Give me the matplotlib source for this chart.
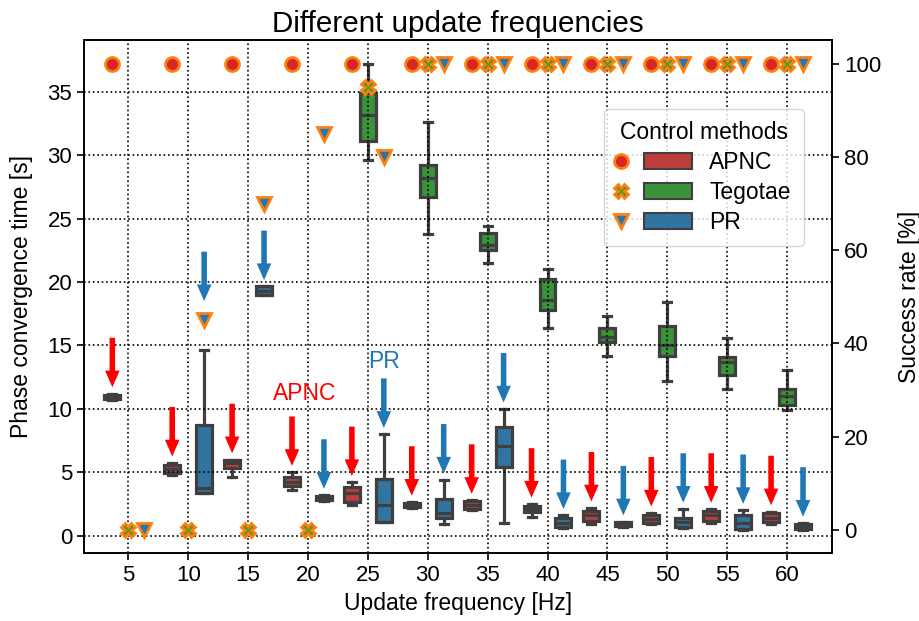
import colorsys
import numpy as np
import matplotlib
matplotlib.use("Agg")
import matplotlib.pyplot as plt
import matplotlib.colors as mcolors
from matplotlib.lines import Line2D
from matplotlib.patches import Patch, Rectangle

plt.rcParams['font.family'] = ['Liberation Sans', 'DejaVu Sans']

freqs = [5, 10, 15, 20, 25, 30, 35, 40, 45, 50, 55, 60]
methods = ['APNC', 'Tegotae', 'PR']

# box stats per frequency: (whisker low, Q1, median, Q3, whisker high) [s]
apnc_box = [(10.7, 10.75, 10.9, 11.1, 11.2), (4.8, 4.95, 5.25, 5.55, 5.75),
            (4.6, 5.35, 5.7, 5.95, 6.0), (3.6, 3.9, 4.25, 4.6, 5.0),
            (2.4, 2.65, 3.4, 3.85, 4.2), (2.2, 2.25, 2.4, 2.6, 2.65),
            (2.0, 2.1, 2.4, 2.7, 2.8), (1.5, 1.85, 2.1, 2.35, 2.5),
            (0.9, 1.15, 1.6, 1.95, 2.2), (0.9, 1.0, 1.3, 1.65, 1.8),
            (1.0, 1.15, 1.6, 1.95, 2.1), (0.95, 1.05, 1.4, 1.75, 1.9)]
tegotae_box = [None, None, None, None,
               (29.6, 31.1, 33.2, 34.9, 37.2), (23.8, 26.7, 28.2, 29.2, 32.6),
               (21.5, 22.5, 22.9, 23.9, 24.4), (16.4, 17.8, 18.6, 20.2, 21.0),
               (14.2, 15.3, 15.7, 16.4, 17.3), (12.2, 14.2, 15.0, 16.5, 18.4),
               (11.6, 12.7, 13.7, 14.1, 15.6), (9.9, 10.3, 11.0, 11.6, 13.1)]
pr_box = [None, (3.4, 3.4, 3.75, 8.7, 14.6),
          (18.95, 18.95, 19.3, 19.65, 19.65), (2.75, 2.8, 3.0, 3.15, 3.2),
          (1.1, 1.1, 2.4, 4.5, 8.0), (0.95, 1.4, 1.8, 2.9, 4.4),
          (1.0, 5.4, 7.1, 8.6, 10.0), (0.6, 0.7, 1.0, 1.4, 1.6),
          (0.7, 0.75, 0.9, 1.05, 1.1), (0.6, 0.65, 1.1, 1.4, 2.1),
          (0.45, 0.5, 1.0, 1.6, 2.0), (0.45, 0.5, 0.7, 0.95, 1.0)]

# success rate [%]
apnc_success = [100, 100, 100, 100, 100, 100, 100, 100, 100, 100, 100, 100]
tegotae_success = [0, 0, 0, 0, 95, 100, 100, 100, 100, 100, 100, 100]
pr_success = [0, 45, 70, 85, 80, 100, 100, 100, 100, 100, 100, 100]

boxes = [apnc_box, tegotae_box, pr_box]
success = [apnc_success, tegotae_success, pr_success]
base_colors = ['tab:red', 'tab:green', 'tab:blue']
markers = ['o', 'X', 'v']
arrow_colors = ['red', None, 'tab:blue']


def desaturate(color, prop=0.75):
    h, l, s = colorsys.rgb_to_hls(*mcolors.to_rgb(color))
    return colorsys.hls_to_rgb(h, l, s * prop)


class MarkerBoxHandler:
    """legend entry: success marker on the left, box patch on the right"""
    def legend_artist(self, legend, orig_handle, fontsize, handlebox):
        ln, p = orig_handle
        x0, y0 = handlebox.xdescent, handlebox.ydescent
        w, h = handlebox.width, handlebox.height
        tr = handlebox.get_transform()
        rect = Rectangle((x0 + 0.36 * w, y0), 0.64 * w, h,
                         facecolor=p.get_facecolor(), edgecolor=p.get_edgecolor(),
                         linewidth=p.get_linewidth(), transform=tr)
        mk = Line2D([x0 + 0.06 * w], [y0 + h / 2], linestyle='none',
                    marker=ln.get_marker(), markersize=ln.get_markersize(),
                    markerfacecolor=ln.get_markerfacecolor(),
                    markeredgecolor=ln.get_markeredgecolor(),
                    markeredgewidth=ln.get_markeredgewidth(), transform=tr)
        handlebox.add_artist(rect)
        handlebox.add_artist(mk)
        return rect


line_col = '#3f3f3f'
width = 0.8 / 3
offsets = [-width, 0.0, width]
x = np.arange(len(freqs))

fig, ax = plt.subplots(figsize=(9.19, 6.21), dpi=100)
fig.subplots_adjust(left=0.0914, right=0.9053, top=0.935, bottom=0.109)
ax2 = ax.twinx()

for m, (data, off, col) in enumerate(zip(boxes, offsets, base_colors)):
    stats, pos = [], []
    for i, b in enumerate(data):
        if b is None:
            continue
        lo, q1, med, q3, hi = b
        stats.append(dict(whislo=lo, q1=q1, med=med, q3=q3, whishi=hi))
        pos.append(x[i] + off)
    ax.bxp(stats, positions=pos, widths=width, patch_artist=True,
           showfliers=False, manage_ticks=False,
           boxprops=dict(facecolor=desaturate(col), edgecolor=line_col, linewidth=2.3),
           medianprops=dict(color=line_col, linewidth=2.3),
           whiskerprops=dict(color=line_col, linewidth=2.3),
           capprops=dict(color=line_col, linewidth=2.3))

# success rate markers
handles = []
for m, (vals, off, col, mk) in enumerate(zip(success, offsets, base_colors, markers)):
    ln, = ax2.plot(x + off, vals, linestyle='none', marker=mk, markersize=10,
                   markerfacecolor=col, markeredgecolor='tab:orange',
                   markeredgewidth=2)
    handles.append((ln, Patch(facecolor=desaturate(col), edgecolor=line_col,
                              linewidth=1.5)))

ax.set_xlim(-0.74, 11.75)
ax.set_ylim(-1.39, 39.05)
ax2.set_ylim(-5, 105)

# arrows above APNC and PR boxes
to_left = lambda v: ax.get_ylim()[0] + (v + 5) / 110 * (ax.get_ylim()[1] - ax.get_ylim()[0])
for m in (0, 2):
    for i, b in enumerate(boxes[m]):
        if b is None:
            continue
        top = b[4]
        mark = to_left(success[m][i])
        if top < mark < top + 4.5:
            top = mark + 1.0
        ax.annotate('', xy=(x[i] + offsets[m], top + 0.5),
                    xytext=(x[i] + offsets[m], top + 4.4),
                    arrowprops=dict(facecolor=arrow_colors[m], edgecolor='none',
                                    width=4, headwidth=10.5, headlength=12))

ax.text(2.95, 11.2, 'APNC', color='red', fontsize=16.5, ha='center', va='center')
ax.text(4 + width, 13.7, 'PR', color='tab:blue', fontsize=16.5, ha='center', va='center')

ax.set_xticks(x)
ax.set_xticklabels([str(f) for f in freqs])
ax.set_yticks(np.arange(0, 36, 5))
ax2.set_yticks(np.arange(0, 101, 20))
ax.tick_params(labelsize=16, width=1.2, length=5)
ax2.tick_params(labelsize=16, width=1.2, length=5)
ax.grid(True, linestyle=':', color='k', linewidth=1.2)
ax.set_axisbelow(False)
for a in (ax, ax2):
    for s in a.spines.values():
        s.set_linewidth(1.2)

ax.set_xlabel('Update frequency [Hz]', fontsize=16.5)
ax.set_ylabel('Phase convergence time [s]', fontsize=16.5, labelpad=10)
ax2.set_ylabel('Success rate [%]', fontsize=16.5, labelpad=12)
ax.set_title('Different update frequencies', fontsize=21.3)

ax2.legend(handles, methods, title='Control methods', fontsize=16.5,
           title_fontsize=16.5, loc='upper right', bbox_to_anchor=(0.962, 0.867),
           borderaxespad=0, handlelength=3.3, handletextpad=0.75, borderpad=0.55,
           labelspacing=0.3, handler_map={tuple: MarkerBoxHandler()})

fig.savefig('out.png', dpi=100)
